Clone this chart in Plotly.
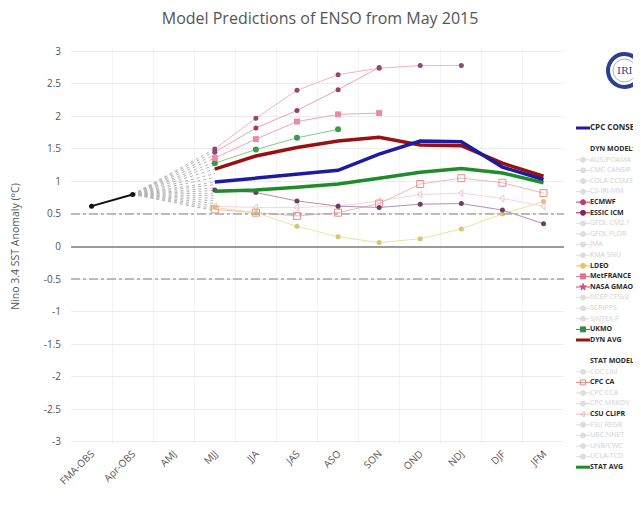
import plotly.graph_objects as go

# seasons on the x axis
seasons = ["FMA-OBS", "Apr-OBS", "AMJ", "MJJ", "JJA", "JAS", "ASO", "SON", "OND", "NDJ", "DJF", "JFM"]
fcst = seasons[3:]

# observations
obs_seasons = ["FMA-OBS", "Apr-OBS"]
obs = [0.62, 0.80]

# first forecast season (MJJ) of every model, for the grey connector fan
mjj_starts = [1.50, 1.46, 1.41, 1.36, 1.30, 1.25, 1.19, 1.12, 1.06, 0.99, 0.95,
              0.90, 0.86, 0.82, 0.78, 0.74, 0.70, 0.66, 0.62, 0.58, 0.55]

# model forecasts (MJJ onward)
cpc_cons = [0.99, 1.05, 1.11, 1.17, 1.42, 1.62, 1.61, 1.22, 1.03]
dyn_avg = [1.19, 1.39, 1.52, 1.62, 1.68, 1.56, 1.55, 1.28, 1.08]
stat_avg = [0.85, 0.87, 0.91, 0.96, 1.05, 1.14, 1.20, 1.13, 0.98]
nasa_gmao = [1.50, 1.97, 2.40, 2.64, 2.74, 2.78, 2.78]
ecmwf = [1.45, 1.82, 2.09, 2.41, 2.75]
metfrance = [1.36, 1.65, 1.92, 2.03, 2.05]
ukmo = [1.28, 1.49, 1.67, 1.80]
essic_icm = [0.87, 0.83, 0.70, 0.62, 0.60, 0.65, 0.66, 0.56, 0.35]
ldeo = [0.60, 0.52, 0.31, 0.15, 0.06, 0.12, 0.27, 0.50, 0.69]
cpc_ca = [0.57, 0.52, 0.47, 0.52, 0.66, 0.96, 1.05, 0.98, 0.82]
csu_clipr = [0.62, 0.60, 0.60, 0.62, 0.70, 0.80, 0.82, 0.74, 0.62]

ytick_vals = [3, 2.5, 2, 1.5, 1, 0.5, 0, -0.5, -1, -1.5, -2, -2.5, -3]
ytick_text = ["3", "2.5", "2", "1.5", "1", "0.5", "0", "-0.5", "-1", "-1.5", "-2", "-2.5", "-3"]

# legend rows (blank string = empty row)
legend_names = ["CPC CONSENSUS", "", "DYN MODELS", "AUS/POAMA", "CMC CANSIP", "COLA CCSM3",
                "CS-IRI-MM", "ECMWF", "ESSIC ICM", "GFDL CM2.1", "GFDL FLOR", "JMA", "KMA SNU",
                "LDEO", "MetFRANCE", "NASA GMAO", "NCEP CFSv2", "SCRIPPS", "SINTEX-F", "UKMO",
                "DYN AVG", "", "STAT MODELS", "CDC LIM", "CPC CA", "CPC CCA", "CPC MRKOV",
                "CSU CLIPR", "FSU REGR", "UBC NNET", "UNB/CWC", "UCLA-TCD", "STAT AVG"]

FONT = "Open Sans"
fig = go.Figure()

# keeps every season on the category axis
fig.add_trace(go.Scatter(x=seasons, y=[None] * len(seasons), mode="lines", hoverinfo="skip"))

# grey fan from last observation to each model's first season
fx, fy = [], []
for v in mjj_starts:
    fx += ["Apr-OBS", "MJJ", None]
    fy += [obs[-1], v, None]
fig.add_trace(go.Scatter(x=fx, y=fy, mode="lines",
                         line=dict(color="#b5b5b5", width=1, dash="dot")))

# style: name, values, line colour, line width, marker symbol, marker colour, marker size
models = [
    ("CSU CLIPR", csu_clipr, "#f6d6dc", 1, "triangle-left-open", "#f0c4cc", 6),
    ("CPC CA", cpc_ca, "#f2b7b7", 1, "square-open", "#e88c8c", 7),
    ("LDEO", ldeo, "#f1e29c", 1, "circle", "#d9c66c", 5),
    ("ESSIC ICM", essic_icm, "#b58fb0", 1, "circle", "#6f3c68", 5),
    ("UKMO", ukmo, "#86c986", 1, "circle", "#3b9a49", 6),
    ("MetFRANCE", metfrance, "#f2a3b8", 1, "square", "#e78ca8", 6),
    ("ECMWF", ecmwf, "#e7a3bf", 1, "circle", "#9c3c6c", 5),
    ("NASA GMAO", nasa_gmao, "#f0b3cb", 1, "circle", "#8e4a74", 5),
]
for name, vals, lc, lw, sym, mc, ms in models:
    fig.add_trace(go.Scatter(x=fcst[:len(vals)], y=vals, mode="lines+markers", name=name,
                             line=dict(color=lc, width=lw),
                             marker=dict(symbol=sym, color=mc, size=ms)))

for name, vals, col in [("STAT AVG", stat_avg, "#1f8c2a"),
                        ("DYN AVG", dyn_avg, "#9a1010"),
                        ("CPC CONSENSUS", cpc_cons, "#1c1ca0")]:
    fig.add_trace(go.Scatter(x=fcst, y=vals, mode="lines", name=name,
                             line=dict(color=col, width=3.5)))

fig.add_trace(go.Scatter(x=obs_seasons, y=obs, mode="lines+markers",
                         line=dict(color="#111111", width=2),
                         marker=dict(color="#111111", size=5)))

# ---- hand-made legend on a side axis (values are page pixels) ----
legend_style = {
    "CPC CONSENSUS": ("line-ew", "#1c1ca0", 3),
    "ECMWF": ("circle", "#c23a6c", 1),
    "ESSIC ICM": ("circle", "#8a1f5e", 1),
    "LDEO": ("circle", "#e0c860", 1),
    "MetFRANCE": ("square", "#e07092", 1),
    "NASA GMAO": ("star", "#d04a86", 1),
    "UKMO": ("square", "#2f8f3f", 1),
    "DYN AVG": ("line-ew", "#9a1010", 3),
    "CPC CA": ("square-open", "#e08a8a", 1),
    "CSU CLIPR": ("triangle-left-open", "#eebbc6", 1),
    "STAT AVG": ("line-ew", "#1f8c2a", 3),
}
row0, step = 128, 10.6
mx, tx = 583, 590
for i, name in enumerate(legend_names):
    if not name:
        continue
    y = row0 + i * step
    header = name.endswith("MODELS")
    on = name in legend_style
    label = "<b>%s</b>" % name if (on or header) else name
    tcol = "#2b2b2b" if (on or header) else "#d0d0d0"
    if not header:
        sym, col, w = legend_style.get(name, ("circle", "#dddddd", 1))
        # short line through the symbol
        fig.add_trace(go.Scatter(x=[mx], y=[y], mode="markers", xaxis="x2", yaxis="y2",
                                 cliponaxis=False, hoverinfo="skip",
                                 marker=dict(symbol="line-ew", size=10,
                                             line=dict(color=col, width=w))))
        if sym != "line-ew":
            fig.add_trace(go.Scatter(x=[mx], y=[y], mode="markers", xaxis="x2", yaxis="y2",
                                     cliponaxis=False, hoverinfo="skip",
                                     marker=dict(symbol=sym, size=5, color=col,
                                                 line=dict(color=col, width=1))))
    fsize = 8 if name == "CPC CONSENSUS" else 7
    fig.add_trace(go.Scatter(x=[tx], y=[y], mode="text", text=[label], xaxis="x2", yaxis="y2",
                             textposition="middle right", cliponaxis=False, hoverinfo="skip",
                             textfont=dict(family=FONT, size=fsize, color=tcol)))

# reference lines at +-0.5
for yv in (0.5, -0.5):
    fig.add_shape(type="line", xref="x domain", x0=0, x1=1, yref="y", y0=yv, y1=yv,
                  line=dict(color="#a8a8a8", width=1.5, dash="dashdot"))

# IRI logo
fig.add_shape(type="circle", xref="x2", yref="y2", x0=608, x1=641, y0=54, y1=87,
              line=dict(color="#2a3f8f", width=4), fillcolor="white")
fig.add_shape(type="circle", xref="x2", yref="y2", x0=613, x1=636, y0=59, y1=82,
              line=dict(color="#9fb0d8", width=1))
fig.add_annotation(x=624.5, y=70.5, xref="x2", yref="y2", text="IRI", showarrow=False,
                   font=dict(family="DejaVu Serif", size=10, color="#2a3f8f"))

# the page adds an 8px body margin, so the figure is 8px smaller than the window
fig.update_layout(
    width=633, height=497,
    margin=dict(l=63, r=0, t=40, b=20),
    plot_bgcolor="white", paper_bgcolor="white",
    showlegend=False,
    font=dict(family=FONT, color="#555555"),
    title=dict(text="Model Predictions of ENSO from May 2015", x=0.493, xref="container",
               y=0.98, yanchor="middle", font=dict(size=16, color="#555555")),
    xaxis=dict(type="category", categoryorder="array", categoryarray=seasons,
               range=[-0.5, 11.5], domain=[0, 0.865], tickangle=-45,
               tickson="boundaries", ticks="", showgrid=True, gridcolor="#f3f3f3",
               tickfont=dict(size=10, color="#555555"), showline=False, zeroline=False),
    yaxis=dict(range=[-3.05, 3.05], domain=[0.0915, 1], tickvals=ytick_vals,
               ticktext=ytick_text, showgrid=True, gridcolor="#ececec",
               zeroline=True, zerolinecolor="#9a9a9a", zerolinewidth=2,
               ticklabelstandoff=9, tickfont=dict(size=10, color="#555555"),
               title=dict(text="Nino 3.4 SST Anomaly (°C)", standoff=23,
                          font=dict(size=10.5, color="#555555"))),
    xaxis2=dict(domain=[0.879, 1], range=[572, 641], visible=False, anchor="y2"),
    yaxis2=dict(domain=[0, 1], range=[485, 48], visible=False, anchor="x2"),
)

fig.write_html("out.html")
